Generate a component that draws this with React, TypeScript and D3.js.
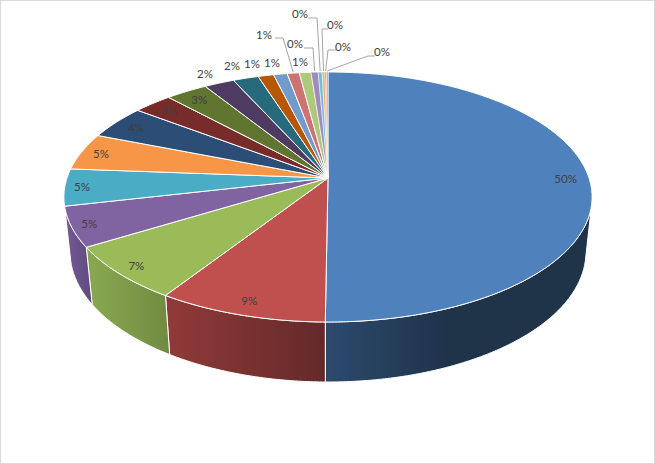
import React from "react";
import * as d3 from "d3";

const width = 655;
const height = 464;

// share of each slice in percent, clockwise from 12 o'clock
const sliceValues = [50.14, 9.0, 7.11, 5.17, 4.78, 4.78, 4.36, 2.78, 2.97, 2.14, 1.81, 1.11, 0.97, 0.86, 0.83, 0.5, 0.28, 0.19, 0.11, 0.11];
const sliceLabels = ["50%", "9%", "7%", "5%", "5%", "5%", "4%", "3%", "3%", "2%", "2%", "1%", "1%", "1%", "1%", "0%", "0%", "0%", "0%", "0%"];
const sliceColors = [
  "#4f81bd", "#c0504d", "#9bbb59", "#8064a2", "#4bacc6", "#f79646", "#2c4d75", "#772c2a", "#5f7530", "#4d3b62",
  "#276a7c", "#b65708", "#729aca", "#cd7371", "#afc97a", "#a18bbb", "#6fc0d8", "#f9ab6b", "#cd8f8d", "#8aa6c8"
];
// side wall gradient: left colour, right colour (only the front four slices show a wall)
const wallLeft = ["#2c4a6e", "#8f3a38", "#87a84e", "#6f5791"];
const wallRight = ["#1f3349", "#632a29", "#718a42", "#5f4a7d"];
// how far out the labels inside the pie sit, as a share of the radius
const labelRadius = [0.91, 0.91, 0.925, 0.935, 0.935, 0.92, 0.9, 0.9, 0.9];

// hand placed labels for the thin slices: label centre, then leader bend points
const outsideLabels: Record<number, { at: [number, number]; leader?: [number, number][] }> = {
  9: { at: [205, 73] },
  10: { at: [232, 65] },
  11: { at: [252, 63] },
  12: { at: [272, 62] },
  13: { at: [264, 34], leader: [[275, 38], [283, 38]] },
  14: { at: [300, 61] },
  15: { at: [295, 43], leader: [[304, 48], [313, 48]] },
  16: { at: [300, 13], leader: [[308, 18], [317, 18]] },
  17: { at: [335, 24], leader: [[328, 29], [322, 29]] },
  18: { at: [343, 46], leader: [[336, 50], [328, 50]] },
  19: { at: [382, 51], leader: [[375, 56], [368, 56]] }
};

// perspective projection of the pie disc (u right, v back, z down)
const apexX = 328;
const apexY = 178;
const discB = 261;
const discA = 122.1;
const tilt = 0.152;
const depthW = 0.0231;
const depthY = 55.6;
// where the wall meets the outline of the disc, measured from 12 o'clock
const silhouette = Math.PI / 2 + Math.asin(tilt) + 0.052;

function project(angle: number, r: number, down: number): [number, number] {
  const u = Math.sin(angle) * r;
  const v = Math.cos(angle) * r;
  const w = 1 + tilt * v + depthW * down;
  return [apexX + (discB * u) / w, apexY + (-discA * v + depthY * down) / w];
}

function arcPoints(a0: number, a1: number, down: number): [number, number][] {
  const n = Math.max(2, Math.ceil((a1 - a0) / 0.01));
  return d3.range(n + 1).map(i => project(a0 + ((a1 - a0) * i) / n, 1, down));
}

const line = d3.line();

export default function App() {
  const arcs = d3.pie<number>().sort(null).value(d => d)(sliceValues);
  const walls = arcs.slice(0, wallLeft.length).map(a => ({
    start: Math.max(a.startAngle, silhouette),
    end: Math.min(a.endAngle, 2 * Math.PI - silhouette)
  }));

  return (
    <svg
      width={width}
      height={height}
      style={{ position: "absolute", left: 0, top: 0, background: "#fff" }}
    >
      <rect x={0.5} y={0.5} width={width - 1} height={height - 1} fill="#fff" stroke="#d9d9d9" />
      <defs>
        {walls.map((a, i) => {
          const xs = d3.extent(arcPoints(a.start, a.end, 1), p => p[0]) as [number, number];
          // the blue wall goes flat after a short stretch
          return (
            <linearGradient
              key={i}
              id={`wall${i}`}
              gradientUnits="userSpaceOnUse"
              x1={xs[0]}
              x2={i === 0 ? xs[0] + 124 : xs[1]}
              y1={0}
              y2={0}
            >
              <stop offset="0" stopColor={wallLeft[i]} />
              <stop offset="1" stopColor={wallRight[i]} />
            </linearGradient>
          );
        })}
      </defs>

      {walls.map((a, i) => {
        const top = arcPoints(a.start, a.end, 0);
        const bottom = arcPoints(a.start, a.end, 1).reverse();
        return (
          <path
            key={i}
            d={line([...top, ...bottom]) + "Z"}
            fill={`url(#wall${i})`}
            stroke="#fff"
            strokeWidth={1}
            strokeLinejoin="round"
          />
        );
      })}

      {arcs.map((a, i) => (
        <path
          key={i}
          d={line([[apexX, apexY], ...arcPoints(a.startAngle, a.endAngle, 0)]) + "Z"}
          fill={sliceColors[i]}
          stroke="#fff"
          strokeWidth={i > 14 ? 0.5 : 1}
          strokeLinejoin="round"
        />
      ))}

      {arcs.map((a, i) => {
        const placed = outsideLabels[i];
        if (!placed || !placed.leader) return null;
        const rim = project((a.startAngle + a.endAngle) / 2, 1, 0);
        return (
          <path
            key={i}
            d={line([...placed.leader, [rim[0], rim[1] - 1]]) ?? ""}
            fill="none"
            stroke="#a6a6a6"
            strokeWidth={1}
          />
        );
      })}

      {arcs.map((a, i) => {
        const placed = outsideLabels[i];
        const pos = placed ? placed.at : project((a.startAngle + a.endAngle) / 2, labelRadius[i], 0);
        return (
          <text
            key={i}
            x={pos[0]}
            y={pos[1]}
            textAnchor="middle"
            dominantBaseline="central"
            fontFamily="Lato, 'Open Sans', sans-serif"
            fontSize={11.5}
            fill="#404040"
          >
            {sliceLabels[i]}
          </text>
        );
      })}
    </svg>
  );
}
